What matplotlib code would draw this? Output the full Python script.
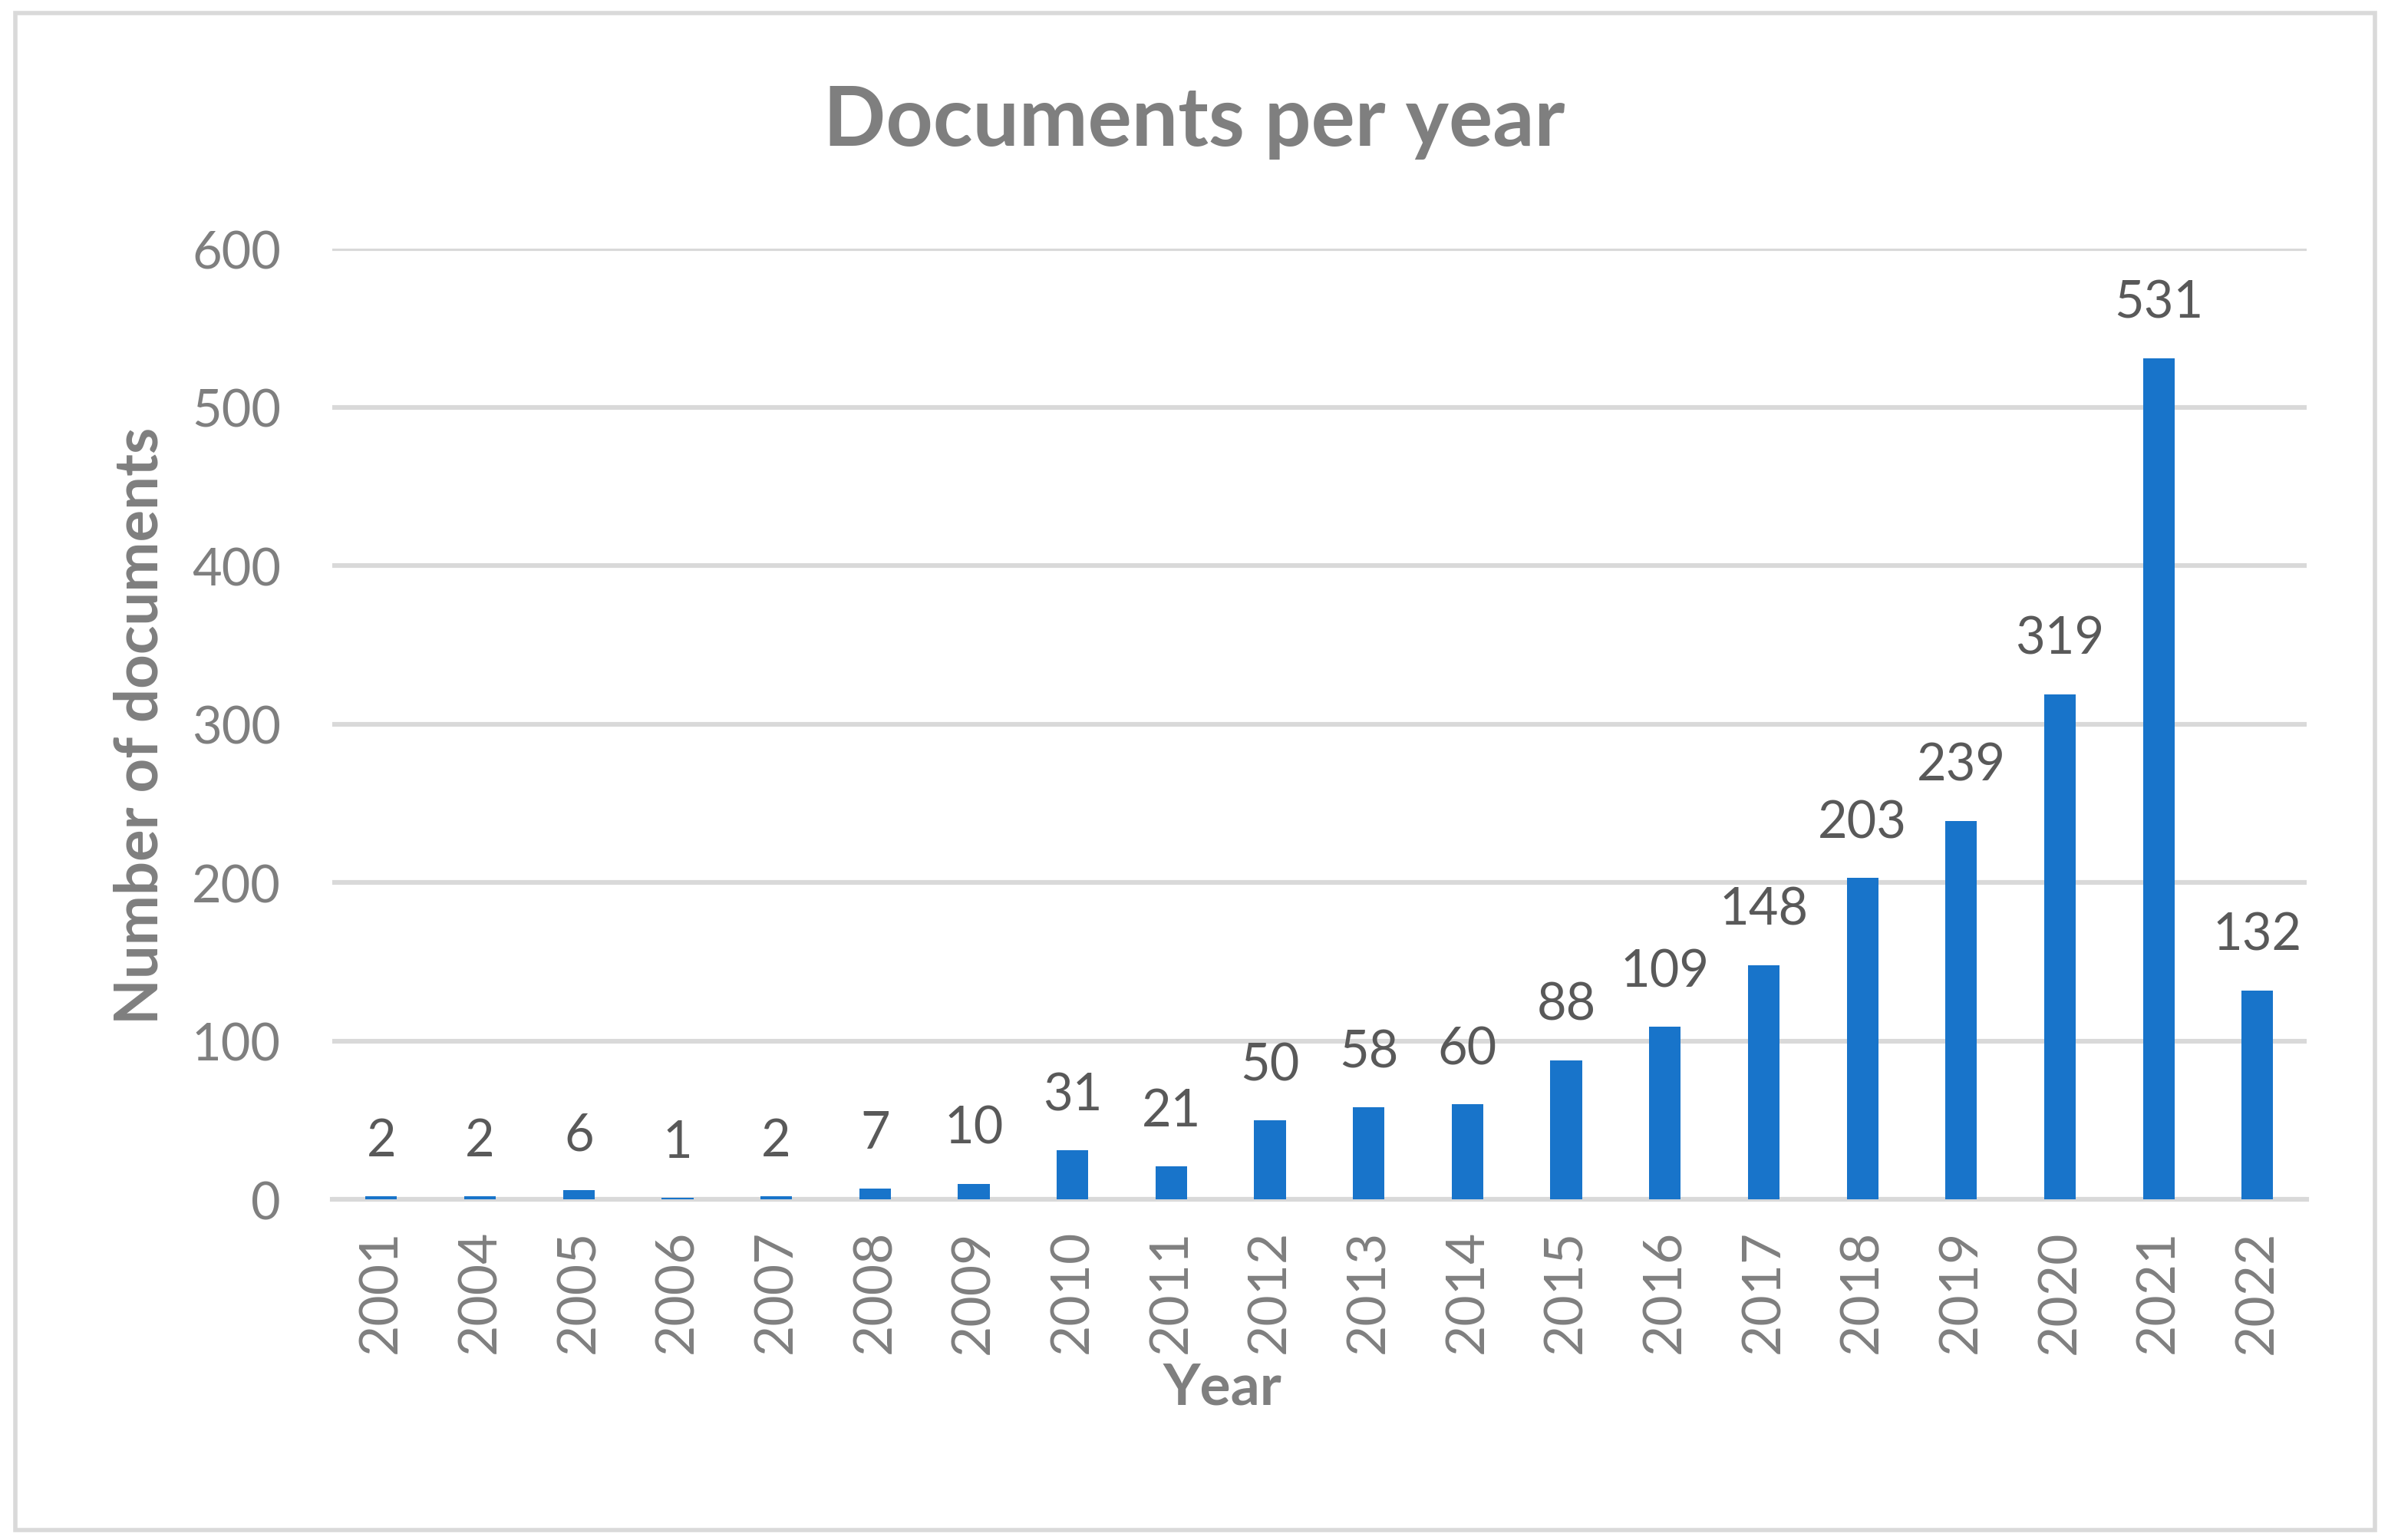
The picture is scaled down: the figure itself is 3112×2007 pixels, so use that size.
import matplotlib
matplotlib.use("Agg")
import matplotlib.pyplot as plt
from matplotlib.patches import Rectangle

years = ["2001", "2004", "2005", "2006", "2007", "2008", "2009", "2010", "2011", "2012",
         "2013", "2014", "2015", "2016", "2017", "2018", "2019", "2020", "2021", "2022"]
documents = [2, 2, 6, 1, 2, 7, 10, 31, 21, 50, 58, 60, 88, 109, 148, 203, 239, 319, 531, 132]
y_ticks = [0, 100, 200, 300, 400, 500, 600]

plt.rcParams['font.family'] = ['Lato', 'DejaVu Sans']

fig = plt.figure(figsize=(15.56, 10.04), dpi=200)
ax = fig.add_axes([0.139, 0.221, 0.827, 0.617])

x = list(range(len(years)))
ax.bar(x, documents, width=0.32, color='#1874CA', zorder=3)

for xi, v in zip(x, documents):
    ax.annotate(str(v), (xi, v), xytext=(0, 19), textcoords='offset points',
                ha='center', va='baseline', fontsize=24, color='#595959')

ax.set_xlim(-0.5, len(years) - 0.5)
ax.set_ylim(0, 600)
ax.set_yticks(y_ticks)
ax.set_yticklabels([str(t) for t in y_ticks])
ax.set_xticks(x)
ax.set_xticklabels(years, rotation=90)
ax.tick_params(axis='y', length=0, pad=24, labelsize=24, labelcolor='#7F7F7F')
ax.tick_params(axis='x', length=0, pad=14, labelsize=25, labelcolor='#7F7F7F')
ax.grid(axis='y', color='#D9D9D9', linewidth=2.2, zorder=0)
for s in ['top', 'right', 'left']:
    ax.spines[s].set_visible(False)
ax.spines['bottom'].set_color('#D9D9D9')
ax.spines['bottom'].set_linewidth(2.2)

fig.text(0.5, 0.921, "Documents per year", ha='center', va='center',
         fontsize=38.5, fontweight='bold', color='#7F7F7F')
fig.text(0.512, 0.099, "Year", ha='center', va='center',
         fontsize=27, fontweight='bold', color='#7F7F7F')
fig.text(0.059, 0.529, "Number of documents", ha='center', va='center', rotation=90,
         fontsize=28, fontweight='bold', color='#7F7F7F')

fig.patches.append(Rectangle((0.0064, 0.0065), 0.988, 0.9845, transform=fig.transFigure,
                             fill=False, edgecolor='#D9D9D9', linewidth=2.0))

fig.savefig("out.png", dpi=200, facecolor='white')
